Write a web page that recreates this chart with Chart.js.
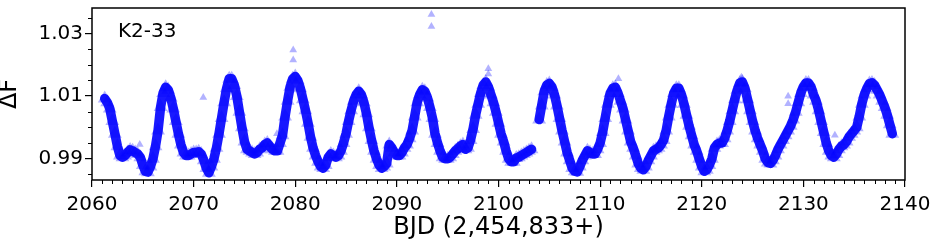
<!DOCTYPE html>
<html>
<head>
<meta charset="utf-8">
<script src="https://cdn.jsdelivr.net/npm/chart.js@4/dist/chart.umd.min.js"></script>
<style>
  html, body { margin: 0; padding: 0; background: #fff; }
  #wrap { width: 932px; height: 240px; }
</style>
</head>
<body>
<div id="wrap"><canvas id="grafica" width="932" height="240"></canvas></div>
<script>
// K2-33 light curve, one value per 0.25 d
const startDay = 2061.25;
const cadence = 0.25;
const flux = [
  1.0092, 1.008, 1.006,                // 2061.25 ..
  1.002, 0.998, 0.994, 0.991,          // 2062
  0.9905, 0.991, 0.992, 0.9928,        // 2063
  0.9925, 0.992, 0.9915, 0.9905,       // 2064
  0.988, 0.986, 0.9857, 0.9875,        // 2065
  0.990, 0.994, 0.999, 1.0065,         // 2066
  1.011, 1.0128, 1.012, 1.0095,        // 2067
  1.006, 1.002, 0.998, 0.9945,         // 2068
  0.992, 0.991, 0.991, 0.9915,         // 2069
  0.992, 0.992, 0.9922, 0.9915,        // 2070
  0.9895, 0.987, 0.9855, 0.9875,       // 2071
  0.990, 0.9935, 0.998, 1.003,         // 2072
  1.008, 1.0125, 1.0155, 1.0155,       // 2073
  1.0135, 1.010, 1.005, 1.000,         // 2074
  0.9955, 0.993, 0.9925, 0.992,        // 2075
  0.9915, 0.992, 0.993, 0.9935,        // 2076
  0.9945, 0.995, 0.994, 0.993,         // 2077
  0.9925, 0.9925, 0.995, 0.9975,       // 2078
  1.0035, 1.0085, 1.013, 1.0155,       // 2079
  1.0162, 1.015, 1.0125, 1.009,        // 2080
  1.0055, 1.0015, 0.997, 0.9935,       // 2081
  0.991, 0.989, 0.9875, 0.987,         // 2082
  0.988, 0.9905, 0.9915, 0.991,        // 2083
  0.9905, 0.991, 0.9925, 0.995,        // 2084
  0.998, 1.002, 1.0055, 1.0085,        // 2085
  1.0105, 1.0115, 1.0105, 1.008,       // 2086
  1.0045, 1.000, 0.996, 0.9925,        // 2087
  0.990, 0.988, 0.987, 0.9875,         // 2088
  0.9885, 0.9945, 0.9935, 0.992,       // 2089
  0.991, 0.991, 0.992, 0.9935,         // 2090
  0.9945, 0.9965, 0.999, 1.0035,       // 2091
  1.008, 1.0105, 1.012, 1.0115,        // 2092
  1.0095, 1.0065, 1.003, 0.998,        // 2093
  0.995, 0.9925, 0.9905, 0.990,        // 2094
  0.990, 0.9905, 0.9915, 0.9925,       // 2095
  0.9932, 0.994, 0.9945, 0.993,        // 2096
  0.9935, 0.996, 0.9995, 1.004,        // 2097
  1.0075, 1.011, 1.0135, 1.0145,       // 2098
  1.013, 1.0105, 1.008, 1.005,         // 2099
  1.0015, 0.998, 0.9955, 0.9925,       // 2100
  0.990, 0.989, 0.989, 0.9902,         // 2101
  0.9905, 0.991, 0.9915, 0.992,        // 2102
  0.9925, 0.993, null, null,           // 2103 (gap)
  1.0025, 1.007, 1.0115, 1.0135,       // 2104
  1.014, 1.013, 1.0105, 1.007,         // 2105
  1.003, 0.999, 0.9955, 0.992,         // 2106
  0.9895, 0.987, 0.986, 0.9858,        // 2107
  0.9875, 0.9895, 0.991, 0.9925,       // 2108
  0.992, 0.9915, 0.9915, 0.993,        // 2109
  0.995, 0.9985, 1.003, 1.0075,        // 2110
  1.011, 1.0125, 1.0128, 1.011,        // 2111
  1.0085, 1.006, 1.0025, 0.999,        // 2112
  0.9955, 0.9935, 0.991, 0.9885,       // 2113
  0.987, 0.9865, 0.9875, 0.9895,       // 2114
  0.991, 0.9925, 0.993, 0.9935,        // 2115
  0.9945, 0.996, 0.999, 1.0035,        // 2116
  1.0075, 1.011, 1.0125, 1.0125,       // 2117
  1.0105, 1.0075, 1.004, 1.0005,       // 2118
  0.9975, 0.9945, 0.9925, 0.990,       // 2119
  0.9875, 0.986, 0.9865, 0.988,        // 2120
  0.990, 0.9935, 0.9945, 0.995,        // 2121
  0.995, 0.9965, 0.999, 1.002,         // 2122
  1.0055, 1.009, 1.012, 1.0142,        // 2123
  1.0145, 1.0125, 1.009, 1.0055,       // 2124
  1.002, 0.999, 0.9965, 0.9945,        // 2125
  0.9925, 0.990, 0.9888, 0.9885,       // 2126
  0.9895, 0.991, 0.993, 0.9945,        // 2127
  0.996, 0.9975, 0.999, 1.0005,        // 2128
  1.0025, 1.005, 1.008, 1.011,         // 2129
  1.013, 1.0142, 1.0142, 1.013,        // 2130
  1.0105, 1.0085, 1.0055, 1.002,       // 2131
  0.9985, 0.995, 0.9925, 0.991,        // 2132
  0.9905, 0.9915, 0.993, 0.994,        // 2133
  0.9945, 0.9955, 0.997, 0.998,        // 2134
  0.999, 1.000, 1.0035, 1.0075,        // 2135
  1.0105, 1.0125, 1.014, 1.0142,       // 2136
  1.0135, 1.012, 1.0105, 1.0085,       // 2137
  1.0065, 1.004, 1.001, 0.998          // 2138
];

// scattered points away from the band
const outlierDays = [2064.7, 2070.95, 2078.2, 2079.8, 2079.8, 2093.4, 2093.4, 2099.0, 2099.0, 2111.8, 2123.9, 2128.5, 2128.5, 2133.1];
const outlierFlux = [0.9945, 1.0095, 0.998, 1.0247, 1.0215, 1.036, 1.0322, 1.0187, 1.017, 1.0155, 1.016, 1.0099, 1.0075, 0.9975];

const yTicks = [0.99, 1.01, 1.03];
const starName = 'K2-33';

// nulls stay so the line breaks at the 2103 gap
const puntos = flux.map((f, i) => ({ x: startDay + i * cadence, y: f }));
const sueltos = outlierDays.map((d, i) => ({ x: d, y: outlierFlux[i] }));

// caja completa y ticks menores, estilo matplotlib
const marco = {
  id: 'marco',
  afterDraw(chart) {
    const { ctx, chartArea: a, scales: { x, y } } = chart;
    ctx.save();
    ctx.strokeStyle = '#000';
    ctx.lineWidth = 1;
    ctx.beginPath();
    for (let d = 2061; d < 2140; d++) {
      if (d % 10 === 0) continue;
      const px = Math.round(x.getPixelForValue(d)) + 0.5;
      ctx.moveTo(px, a.bottom);
      ctx.lineTo(px, a.bottom + 4);
    }
    for (let k = 197; k <= 207; k++) {
      const v = k * 0.005;
      if (k % 4 === 2) continue;
      const py = Math.round(y.getPixelForValue(v)) + 0.5;
      if (py < a.top || py > a.bottom) continue;
      ctx.moveTo(a.left, py);
      ctx.lineTo(a.left - 4, py);
    }
    ctx.stroke();
    ctx.lineWidth = 1.5;
    ctx.strokeRect(a.left, a.top, a.right - a.left, a.bottom - a.top);
    ctx.fillStyle = '#000';
    ctx.font = '20px "DejaVu Sans"';
    ctx.textBaseline = 'alphabetic';
    ctx.fillText(starName, a.left + 26, a.top + 29);
    ctx.restore();
  }
};

const ctx = document.getElementById('grafica').getContext('2d');
new Chart(ctx, {
  type: 'scatter',
  data: {
    datasets: [
      {
        label: starName,
        data: puntos,
        showLine: true,
        spanGaps: false,
        borderColor: 'rgba(0, 0, 255, 0.9)',
        borderWidth: 9.5,
        borderJoinStyle: 'round',
        borderCapStyle: 'round',
        pointStyle: 'triangle',
        pointRadius: 8,
        pointBorderWidth: 0,
        pointBackgroundColor: 'rgba(0, 0, 255, 0.3)'
      },
      {
        label: 'outliers',
        data: sueltos,
        pointStyle: 'triangle',
        pointRadius: 4.5,
        pointBorderWidth: 0,
        pointBackgroundColor: 'rgba(0, 0, 255, 0.3)'
      }
    ]
  },
  options: {
    responsive: false,
    animation: false,
    events: [],
    layout: { padding: { top: 7, right: 27, left: 0, bottom: 0 } },
    plugins: { legend: { display: false }, tooltip: { enabled: false } },
    scales: {
      x: {
        type: 'linear',
        min: 2060,
        max: 2140,
        afterFit: s => { s.height = 60; s.paddingLeft = 0; s.paddingRight = 0; },
        border: { display: false },
        grid: { drawOnChartArea: false, color: '#000', tickLength: 7, lineWidth: 1.2 },
        ticks: {
          stepSize: 10,
          color: '#000',
          padding: 6,
          font: { family: 'DejaVu Sans', size: 20 },
          callback: v => String(v)
        },
        title: {
          display: true,
          text: 'BJD (2,454,833+)',
          color: '#000',
          font: { family: 'DejaVu Sans', size: 24, lineHeight: 1.05 },
          padding: { top: 0, bottom: 0 }
        }
      },
      y: {
        type: 'linear',
        min: 0.9832,
        max: 1.0381,
        afterFit: s => { s.width = 92; s.paddingTop = 0; s.paddingBottom = 0; },
        afterBuildTicks: s => { s.ticks = yTicks.map(v => ({ value: v })); },
        border: { display: false },
        grid: { drawOnChartArea: false, color: '#000', tickLength: 7, lineWidth: 1.2 },
        ticks: {
          color: '#000',
          padding: 2,
          font: { family: 'DejaVu Sans', size: 20 },
          callback: v => v.toFixed(2)
        },
        title: {
          display: true,
          text: 'ΔF',
          color: '#000',
          font: { family: 'DejaVu Sans', size: 24, lineHeight: 0.85 },
          padding: { top: 0, bottom: 0 }
        }
      }
    }
  },
  plugins: [marco]
});
</script>
</body>
</html>
